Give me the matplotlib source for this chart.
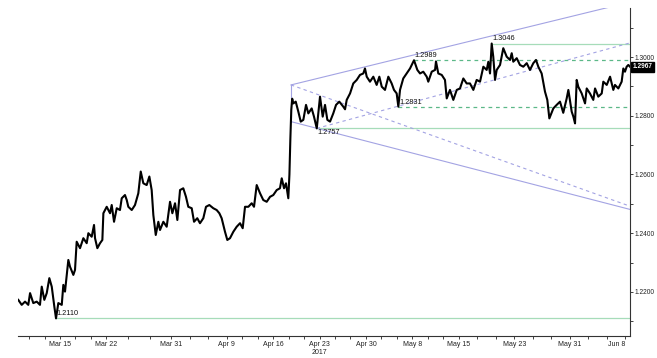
#!/usr/bin/env python3
"""
Intraday price chart (GBP-style quote) with channel / trend lines,
redrawn in the style of a terminal screenshot.
"""
import numpy as np
import matplotlib
matplotlib.use("Agg")
import matplotlib.pyplot as plt
import matplotlib.transforms as mtransforms

plt.rcParams['font.family'] = ['Liberation Sans', 'DejaVu Sans']

START = '2017-03-09'

# price path, x in business days since START
day_idx = [
    -0.50, -0.13, 0.23, 0.58, 0.77, 1.12, 1.49, 1.84, 2.03, 2.31, 2.57, 2.85,
    3.11, 3.39, 3.57, 3.82, 4.19, 4.36, 4.54, 4.90, 5.08, 5.44, 5.62, 5.80,
    6.16, 6.52, 6.88, 7.06, 7.42, 7.67, 7.78, 8.03, 8.32, 8.57, 8.68, 9.04,
    9.40, 9.58, 9.83, 10.12, 10.47, 10.66, 11.01, 11.20, 11.37, 11.74, 12.09,
    12.45, 12.71, 12.99, 13.35, 13.64, 13.89, 14.07, 14.33, 14.61, 14.79,
    15.15, 15.51, 15.87, 16.12, 16.41, 16.66, 16.95, 17.30, 17.59, 17.84,
    18.21, 18.46, 18.81, 19.10, 19.46, 19.75, 20.11, 20.54, 20.90, 21.19,
    21.44, 21.80, 22.05, 22.34, 22.70, 23.06, 23.42, 23.71, 23.96, 24.32,
    24.68, 24.93, 25.22, 25.58, 25.93, 26.30, 26.66, 27.01, 27.38, 27.73,
    27.92, 28.17, 28.38, 28.63, 28.75, 28.85, 28.95, 29.05, 29.17, 29.43,
    29.71, 29.97, 30.25, 30.54, 30.79, 31.15, 31.40, 31.70, 32.05, 32.34,
    32.59, 32.84, 33.13, 33.48, 33.78, 34.13, 34.56, 34.75, 34.93, 35.29,
    35.64, 36.01, 36.36, 36.72, 36.90, 37.09, 37.44, 37.80, 38.16, 38.45,
    38.71, 39.06, 39.42, 39.78, 40.03, 40.32, 40.50, 40.68, 41.03, 41.40,
    41.76, 42.19, 42.55, 42.84, 43.19, 43.56, 43.73, 44.10, 44.46, 44.56,
    44.81, 45.18, 45.53, 45.72, 46.07, 46.43, 46.80, 47.15, 47.51, 47.87,
    48.23, 48.59, 48.95, 49.31, 49.67, 50.03, 50.21, 50.39, 50.57, 50.74,
    50.93, 51.11, 51.47, 51.82, 52.19, 52.55, 52.73, 52.90, 53.27, 53.62,
    53.98, 54.35, 54.70, 55.06, 55.35, 55.60, 55.96, 56.32, 56.57, 56.79,
    57.22, 57.58, 57.94, 58.29, 58.66, 58.84, 59.20, 59.38, 59.56, 59.74,
    59.91, 60.28, 60.64, 60.82, 61.17, 61.53, 61.72, 62.07, 62.44, 62.61,
    62.98, 63.34, 63.69, 63.87, 64.23, 64.59, 64.77, 64.95, 65.13, 65.31,
    65.49,
]
price = [
    1.2173, 1.2156, 1.2167, 1.2156, 1.2196, 1.2162, 1.2167, 1.2156, 1.2218,
    1.2173, 1.2196, 1.2247, 1.2218, 1.2150, 1.2110, 1.2162, 1.2156, 1.2224,
    1.2201, 1.2309, 1.2286, 1.2258, 1.2275, 1.2371, 1.2349, 1.2383, 1.2366,
    1.2400, 1.2388, 1.2428, 1.2383, 1.2349, 1.2366, 1.2377, 1.2468, 1.2490,
    1.2468, 1.2496, 1.2439, 1.2485, 1.2479, 1.2519, 1.2530, 1.2513, 1.2490,
    1.2479, 1.2496, 1.2536, 1.2610, 1.2570, 1.2564, 1.2593, 1.2547, 1.2462,
    1.2394, 1.2439, 1.2411, 1.2439, 1.2422, 1.2507, 1.2468, 1.2502, 1.2445,
    1.2547, 1.2553, 1.2524, 1.2490, 1.2485, 1.2439, 1.2451, 1.2434, 1.2451,
    1.2490, 1.2496, 1.2485, 1.2479, 1.2468, 1.2451, 1.2405, 1.2377, 1.2383,
    1.2405, 1.2422, 1.2434, 1.2417, 1.2490, 1.2490, 1.2502, 1.2490, 1.2564,
    1.2536, 1.2513, 1.2507, 1.2524, 1.2530, 1.2547, 1.2553, 1.2587, 1.2553,
    1.2570, 1.2519, 1.2600, 1.2720, 1.2820, 1.2858, 1.2842, 1.2848, 1.2814,
    1.2780, 1.2786, 1.2837, 1.2808, 1.2825, 1.2797, 1.2757, 1.2865, 1.2797,
    1.2837, 1.2786, 1.2780, 1.2808, 1.2837, 1.2848, 1.2831, 1.2822, 1.2854,
    1.2876, 1.2910, 1.2922, 1.2939, 1.2944, 1.2961, 1.2933, 1.2916, 1.2933,
    1.2905, 1.2933, 1.2899, 1.2888, 1.2933, 1.2910, 1.2888, 1.2876, 1.2831,
    1.2888, 1.2927, 1.2944, 1.2961, 1.2989, 1.2956, 1.2944, 1.2950, 1.2933,
    1.2916, 1.2950, 1.2956, 1.2985, 1.2944, 1.2939, 1.2922, 1.2859, 1.2888,
    1.2854, 1.2888, 1.2893, 1.2927, 1.2910, 1.2910, 1.2888, 1.2922, 1.2916,
    1.2967, 1.2956, 1.2984, 1.2944, 1.3046, 1.3001, 1.2922, 1.2956, 1.2973,
    1.3030, 1.3001, 1.2990, 1.3013, 1.2984, 1.2996, 1.2973, 1.2967, 1.2979,
    1.2956, 1.2979, 1.2990, 1.2967, 1.2944, 1.2882, 1.2854, 1.2791, 1.2825,
    1.2837, 1.2848, 1.2810, 1.2859, 1.2888, 1.2814, 1.2797, 1.2774, 1.2922,
    1.2899, 1.2876, 1.2842, 1.2893, 1.2876, 1.2854, 1.2893, 1.2865, 1.2876,
    1.2916, 1.2905, 1.2933, 1.2888, 1.2905, 1.2893, 1.2916, 1.2961, 1.2950,
    1.2967, 1.2973, 1.2967,
]
last_price = 1.2967

# marked swing levels: (business day where the level starts, level, label place)
levels_solid = [(3.57, 1.2110, 'above'), (31.70, 1.2757, 'below'),
                (50.57, 1.3046, 'above')]
levels_dashed = [(40.50, 1.2831, 'above'), (42.19, 1.2989, 'above')]

# channel lines as (x0, y0, x1, y1)
channel_solid = [(28.92, 1.2905, 65.49, 1.3187),   # upper edge
                 (28.92, 1.2780, 65.49, 1.2481),   # lower edge
                 (28.92, 1.2905, 28.92, 1.2780)]   # vertical at the gap
channel_dashed = [(28.92, 1.2905, 65.49, 1.2492),
                  (31.70, 1.2757, 65.49, 1.3048)]

tick_dates = ['2017-03-15', '2017-03-22', '2017-03-31', '2017-04-09',
              '2017-04-16', '2017-04-23', '2017-04-30', '2017-05-08',
              '2017-05-15', '2017-05-23', '2017-05-31', '2017-06-08']
tick_labels = ['Mar 15', 'Mar 22', 'Mar 31', 'Apr 9', 'Apr 16', 'Apr 23\n2017',
               'Apr 30', 'May 8', 'May 15', 'May 23', 'May 31', 'Jun 8']
y_ticks = [1.22, 1.24, 1.26, 1.28, 1.30]

GREEN = '#a6dcb9'
GREEN_D = '#5cb888'
PURPLE = '#a3a3e3'

fig = plt.figure(figsize=(6.57, 3.58), dpi=100)
ax = fig.add_axes([0.0274, 0.0615, 0.9315, 0.9162])

x_end = 65.49
for x0, lv, where in levels_solid:
    ax.plot([x0, x_end], [lv, lv], color=GREEN, lw=0.9, zorder=1)
for x0, lv, where in levels_dashed:
    ax.plot([x0, x_end], [lv, lv], color=GREEN_D, lw=0.9, ls=(0, (3, 3)), zorder=1)
for x0, y0, x1, y1 in channel_solid:
    ax.plot([x0, x1], [y0, y1], color=PURPLE, lw=0.8, zorder=1)
for x0, y0, x1, y1 in channel_dashed:
    ax.plot([x0, x1], [y0, y1], color=PURPLE, lw=0.8, ls=(0, (3, 3)), zorder=1)

ax.plot(day_idx, price, color='black', lw=1.5, zorder=3)

# level labels
for x0, lv, where in levels_solid + levels_dashed:
    if where == 'above':
        ax.annotate(f'{lv:.4f}', (x0, lv), xytext=(0.5, 0.8), textcoords='offset points',
                    fontsize=5.3, color='#111111', va='bottom', ha='left', zorder=4)
    else:
        ax.annotate(f'{lv:.4f}', (x0, lv), xytext=(0.5, -0.8), textcoords='offset points',
                    fontsize=5.3, color='#111111', va='top', ha='left', zorder=4)

# last price tag on the axis
trans = mtransforms.blended_transform_factory(ax.transAxes, ax.transData)
ax.annotate(f'{last_price:.4f}', (1, last_price), xycoords=trans,
            xytext=(2, 0), textcoords='offset points', fontsize=4.7, color='white',
            fontweight='bold', va='center', ha='left', annotation_clip=False,
            bbox=dict(boxstyle='square,pad=0.2', fc='black', ec='black'))

ax.set_xlim(-0.53, x_end)
ax.set_ylim(1.2050, 1.3167)

tick_pos = [np.busday_count(START, d) for d in tick_dates]
ax.set_xticks(tick_pos)
ax.set_xticklabels(tick_labels)
minor = []
for a, b in zip([2 * tick_pos[0] - tick_pos[1]] + tick_pos[:-1], tick_pos):
    minor += [a + (b - a) / 3.0, a + 2 * (b - a) / 3.0]
ax.set_xticks(minor, minor=True)
ax.xaxis.get_ticklabels()[-1].set_ha('right')

ax.yaxis.tick_right()
ax.set_yticks(y_ticks)
ax.set_yticklabels([f'{v:.4f}' for v in y_ticks])
ax.set_yticks([1.21, 1.23, 1.25, 1.27, 1.29, 1.31], minor=True)

for s in ['left', 'top']:
    ax.spines[s].set_visible(False)
for s in ['right', 'bottom']:
    ax.spines[s].set_color('#333333')
    ax.spines[s].set_linewidth(0.8)

ax.tick_params(axis='both', which='both', colors='#222222',
               length=2, width=0.6, pad=1)
ax.tick_params(axis='x', labelsize=5, pad=1.5)
ax.tick_params(axis='y', labelsize=4.8)

fig.savefig('out.png', dpi=100)
